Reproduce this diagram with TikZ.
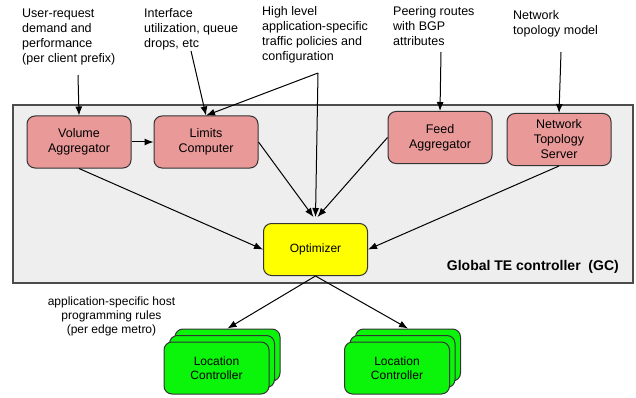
\documentclass[tikz,border=0pt]{standalone}
\usepackage{fontspec}
\setmainfont{Liberation Sans}
\usetikzlibrary{arrows.meta}
\definecolor{tepink}{RGB}{234,153,153}
\definecolor{teyellow}{RGB}{255,255,0}
\definecolor{tegreen}{RGB}{10,245,10}
\definecolor{tegray}{RGB}{238,238,238}

\begin{document}
\begin{tikzpicture}[x=1pt, y=-1pt,
	box/.style={draw=black!80, line width=1pt, rounded corners=8pt, minimum width=104pt, minimum height=52pt, align=center, inner sep=2pt, font=\fontsize{12.5}{15}\selectfont},
	pinkbox/.style={box, fill=tepink},
	lcbox/.style={box, fill=tegreen, minimum width=105pt, font=\fontsize{12}{14}\selectfont},
	note/.style={align=left, anchor=north west, inner sep=0pt, font=\fontsize{12.5}{15}\selectfont},
	arr/.style={->, >={Latex[length=9pt, width=7pt]}, line width=1pt}]
		\useasboundingbox (0,0) rectangle (636,398);
		% controller frame
		\draw[fill=tegray, draw=black!70, line width=1.2pt] (13,105) rectangle (633,283);
		\node[anchor=east, inner sep=0pt, font=\bfseries\fontsize{14}{16}\selectfont] (gc) at (619,267) {Global TE controller\ \ (GC)};
		% boxes
		\node[pinkbox] (va) at (79,142) {Volume\\Aggregator};
		\node[pinkbox] (lim) at (206,142) {Limits\\Computer};
		\node[pinkbox] (fa) at (440,137.5) {Feed\\Aggregator};
		\node[pinkbox] (nts) at (559,139.5) {Network\\Topology\\Server};
		\node[box, fill=teyellow, font=\fontsize{12}{14}\selectfont] (opt) at (315.5,249.5) {Optimizer};
		\node[lcbox] (lca3) at (227.5,355) {};
		\node[lcbox] (lca2) at (222,361.5) {};
		\node[lcbox] (lca) at (216.5,368) {Location\\Controller};
		\node[lcbox] (lcb3) at (408,355) {};
		\node[lcbox] (lcb2) at (402.5,361.5) {};
		\node[lcbox] (lcb) at (397,368) {Location\\Controller};
		% inputs
		\node[note] (user) at (22,8.5) {User-request\\demand and\\performance\\(per client prefix)};
		\node[note] (iface) at (144,8.5) {Interface\\utilization, queue\\drops, etc};
		\node[note] (high) at (262,6) {High level\\application-specific\\traffic policies and\\configuration};
		\node[note] (peer) at (393,6) {Peering routes\\with BGP\\attributes};
		\node[note] (topo) at (513,10.5) {Network\\topology model};
		\node[align=center, inner sep=0pt, font=\fontsize{12}{14}\selectfont] (rules) at (111.5,316) {application-specific host\\programming rules\\(per edge metro)};
		\coordinate (userfrom) at (78,75);
		\coordinate (ifacefrom) at (191,51);
		\coordinate (hl) at (318,73);
		\coordinate (peerfrom) at (441,52);
		\coordinate (topofrom) at (561,52);
		% connectors
		\draw[arr] (userfrom) -- (va.north);
		\draw[arr] (ifacefrom) -- (lim.north);
		\draw[arr] (hl) -- (lim.north);
		\draw[arr] (hl) -- ([yshift=6pt]opt.north);
		\draw[arr] (peerfrom) -- (fa.north);
		\draw[arr] (topofrom) -- (nts.north);
		\draw[arr] (va.east) -- (lim.west);
		\draw[arr] (lim.east) -- ([xshift=-2pt, yshift=6pt]opt.north);
		\draw[arr] (fa.west) -- ([xshift=2pt, yshift=6pt]opt.north);
		\draw[arr] (va.south) -- (opt.west);
		\draw[arr] (nts.south) -- (opt.east);
		\draw[arr] (opt.south) -- (lca3.north);
		\draw[arr] (opt.south) -- (lcb3.north);
\end{tikzpicture}
\end{document}
